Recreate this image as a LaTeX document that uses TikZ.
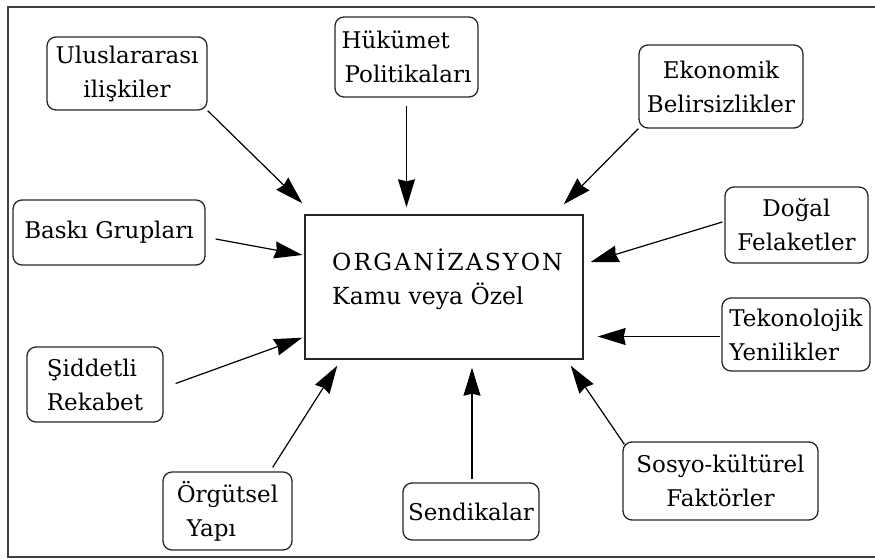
\documentclass[tikz,border=0pt]{standalone}
\usepackage{fontspec}
\setmainfont{DejaVu Serif}
\usetikzlibrary{arrows.meta,calc}
\begin{document}
\begin{tikzpicture}[x=1pt,y=-1pt,
  fbox/.style={draw=black!85, line width=1.3pt, rounded corners=9pt, inner sep=0pt,
    font=\fontsize{23}{34}\selectfont, align=center},
  orgbox/.style={draw=black!85, line width=1.4pt, inner sep=0pt,
    minimum width=278pt, minimum height=144pt},
  arr/.style={draw=black, line width=1.2pt, -{Stealth[length=28pt,width=17pt,inset=2pt]}},
  frame/.style={draw=black!75, line width=2.5pt}]
\useasboundingbox (0,0) rectangle (875,559);
\draw[frame] (876,7) -- (8,7) -- (8,557) -- (876,557);

\node[orgbox] (org) at (444,287) {};
\node[font=\fontsize{23.5}{34}\selectfont, align=left, anchor=north west, inner sep=0pt] (orgtxt) at (332,249)
  {{\addfontfeature{LetterSpace=9}ORGANİZASYON}\\Kamu veya Özel};

\node[fbox, minimum width=160pt, minimum height=73pt] (ulus) at (127,73.5) {Uluslararası\\ilişkiler};
\node[fbox, minimum width=143pt, minimum height=80pt, align=left] (huk) at (406.5,57) {Hükümet\\\hspace*{3pt}Politikaları};
\node[fbox, minimum width=164pt, minimum height=83pt] (eko) at (721,86.5) {Ekonomik\\Belirsizlikler};
\node[fbox, minimum width=143pt, minimum height=76pt] (dog) at (796.5,225) {Doğal\\Felaketler};
\node[fbox, minimum width=148pt, minimum height=73pt, align=left] (tek) at (796,334.5) {Tekonolojik\\Yenilikler};
\node[fbox, minimum width=195pt, minimum height=78pt] (sos) at (720.5,481) {Sosyo-kültürel\\Faktörler};
\node[fbox, minimum width=136pt, minimum height=57pt] (sen) at (471,511.5) {Sendikalar};
\node[fbox, minimum width=129pt, minimum height=78pt, align=left] (org2) at (227.5,511) {Örgütsel\\\hspace*{10pt}Yapı};
\node[fbox, minimum width=136pt, minimum height=75pt, align=left] (sid) at (95,384.5) {Şiddetli\\Rekabet};
\node[fbox, minimum width=192pt, minimum height=65pt] (bas) at (109,232.5) {Baskı Grupları};

\draw[arr] (ulus.south east) -- ($(org.north west)+(-2,-11)$);
\draw[arr] ($(huk.south)+(0,8)$) -- ($(huk.south |- org.north)+(0,-7)$);
\draw[arr] (eko.south west) -- ($(org.north east)+(-20,-10)$);
\draw[arr] ($(dog.west)+(-2,-3)$) -- ($(org.east)+(7,-25)$);
\draw[arr] ($(tek.west)+(-1,2)$) -- ($(tek.west -| org.east)+(14,2)$);
\draw[arr] ($(sos.north west)+(2,3)$) -- ($(org.south east)+(-13,6)$);
\draw[arr] ($(sen.north)+(1,-3)$) -- ($(sen.north |- org.south)+(1,8)$);
\draw[arr] ($(org2.north east)+(-20,-4)$) -- ($(org.south west)+(33,6)$);
\draw[arr] ($(sid.east)+(12,-1)$) -- ($(org.south west)+(-2,-22)$);
\draw[arr] ($(bas.east)+(10,6.5)$) -- ($(org.west)+(-2,-32)$);
\end{tikzpicture}
\end{document}
